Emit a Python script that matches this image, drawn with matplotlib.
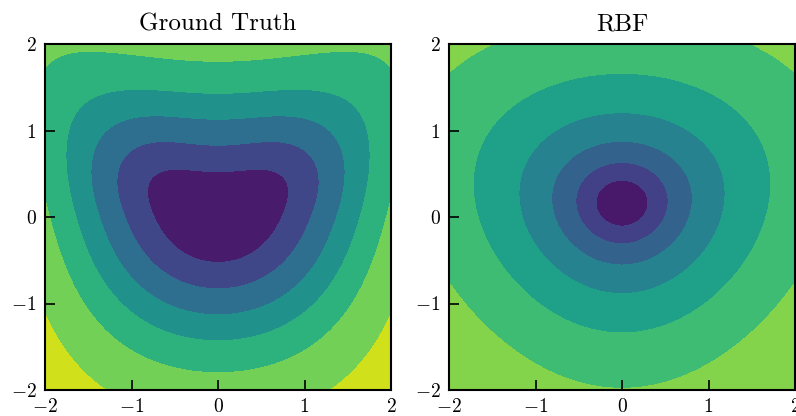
import numpy as np
import matplotlib.pyplot as plt

plt.rcParams['font.family'] = 'serif'
plt.rcParams['font.serif'] = ['cmr10']
plt.rcParams['mathtext.fontset'] = 'cm'
plt.rcParams['axes.formatter.use_mathtext'] = True

titles = ['Ground Truth', 'RBF']
ticks = [-2, -1, 0, 1, 2]

# band edges of each field
gt_levels = [-0.1, 0.2756, 0.689, 1.277, 2.045, 3.24, 5.56, 9.0]
rbf_levels = [0.0, 0.265, 0.47, 0.715, 1.045, 1.50, 2.14, 3.6, 8.0]

# ground truth: x^2 * w(y) + a x^4 + y^2, w falls off for y > 0
gt_w_low = 0.8
gt_w_slope = 0.6
gt_w_soft = 0.6
gt_quartic = 0.081
# extra flattening of the upper side near the minimum
gt_bump = 1.5
gt_bump_width = 1.0
gt_bump_soft = 0.15

# rbf fit: egg shaped bowl
rbf_center = (0.0, 0.16)
rbf_xweight = 0.778
rbf_skew = 0.2

xs = np.linspace(-2, 2, 500)
X, Y = np.meshgrid(xs, xs)


def softplus(t, s):
    return s * np.log1p(np.exp(t / s))


def ground_truth(x, y):
    w = gt_w_low - gt_w_slope * softplus(y, gt_w_soft)
    bump = gt_bump * x**2 * softplus(y, gt_bump_soft) * np.exp(-(x**2 + y**2) / gt_bump_width**2)
    return x**2 * w + gt_quartic * x**4 + y**2 - bump


def rbf_fit(x, y):
    dx = x - rbf_center[0]
    dy = y - rbf_center[1]
    return np.sqrt(rbf_xweight * np.exp(-rbf_skew * dy) * dx**2 + dy**2)


def band_colors(levels):
    n = len(levels) - 1
    cmap = plt.get_cmap('viridis')
    return [cmap((i + 0.5) / n) for i in range(n)]


fig = plt.figure(figsize=(7.96, 4.16), dpi=100)
ax1 = fig.add_axes([45 / 796, 26 / 416, 346 / 796, 346 / 416])
ax2 = fig.add_axes([449 / 796, 26 / 416, 346 / 796, 346 / 416])

fields = [ground_truth(X, Y), rbf_fit(X, Y)]
all_levels = [gt_levels, rbf_levels]

for ax, Z, lv, title in zip([ax1, ax2], fields, all_levels, titles):
    ax.contourf(X, Y, Z, levels=lv, colors=band_colors(lv))
    ax.set_xlim(-2, 2)
    ax.set_ylim(-2, 2)
    ax.set_xticks(ticks)
    ax.set_yticks(ticks)
    ax.tick_params(direction='in', length=7, width=1.2, labelsize=14, pad=6)
    for s in ax.spines.values():
        s.set_linewidth(1.5)
    ax.set_title(title, fontsize=18, pad=10)

plt.savefig('out.png', dpi=100)
